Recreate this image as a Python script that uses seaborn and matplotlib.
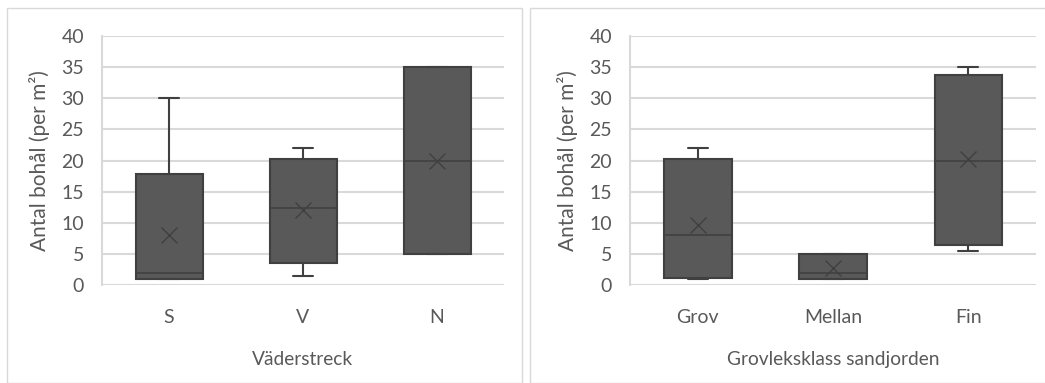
import numpy as np
import matplotlib
matplotlib.use("Agg")
import matplotlib.pyplot as plt
import seaborn as sns
from matplotlib.patches import Rectangle

# left panel: direction
dir_labels = ["S", "V", "N"]
dir_min = [1, 1.5, 5]
dir_q1 = [1, 3.6, 5]
dir_med = [2, 12.3, 20]
dir_q3 = [17.8, 20.2, 35]
dir_max = [30, 22, 35]
dir_mean = [8, 12, 20]

# right panel: sand grain size
size_labels = ["Grov", "Mellan", "Fin"]
size_min = [1, 1, 5.5]
size_q1 = [1.1, 1, 6.5]
size_med = [8, 2, 20]
size_q3 = [20.2, 5, 33.8]
size_max = [22, 5, 35]
size_mean = [9.7, 2.7, 20.2]

sns.set_theme(style="white")
plt.rcParams['font.family'] = ['Lato', 'DejaVu Sans']

TXT = "#595959"
FILL = "#595959"
EDGE = "#404040"
GRID = "#d9d9d9"

fig = plt.figure(figsize=(10.45, 3.83), dpi=100)

# panel frames
W, H = 1045, 383
fig.patches.append(Rectangle((7 / W, 0), (522 - 7) / W, 1 - 8 / H, transform=fig.transFigure,
                             fill=False, edgecolor=GRID, lw=1))
fig.patches.append(Rectangle((530 / W, 0), 1.05, 1 - 8 / H, transform=fig.transFigure,
                             fill=False, edgecolor=GRID, lw=1))

ax1 = fig.add_axes([102 / W, 1 - 285 / H, (504 - 102) / W, (285 - 36) / H])
ax2 = fig.add_axes([630 / W, 1 - 285 / H, (1036 - 630) / W, (285 - 36) / H])


def draw(ax, labels, mn, q1, med, q3, mx, mean, xlabel):
    stats = []
    for i in range(len(labels)):
        stats.append(dict(whislo=mn[i], q1=q1[i], med=med[i], q3=q3[i], whishi=mx[i],
                          mean=mean[i], fliers=[], label=labels[i]))
    ax.bxp(stats, positions=range(len(labels)), widths=0.5, capwidths=0.15,
           showmeans=True, showfliers=False, patch_artist=True,
           boxprops=dict(facecolor=FILL, edgecolor=EDGE, lw=1.5),
           medianprops=dict(color=EDGE, lw=1.2),
           whiskerprops=dict(color=EDGE, lw=1.5),
           capprops=dict(color=EDGE, lw=1.5),
           meanprops=dict(marker="x", markersize=12, markeredgecolor=EDGE,
                          markeredgewidth=1.0))
    ax.set_xlim(-0.5, len(labels) - 0.5)
    ax.set_ylim(0, 40)
    ax.set_yticks(range(0, 41, 5))
    ax.yaxis.grid(True, color=GRID, lw=1.5)
    ax.set_axisbelow(True)
    for s in ["top", "right", "bottom"]:
        ax.spines[s].set_visible(False)
    ax.spines["left"].set_color(GRID)
    ax.spines["left"].set_linewidth(1.5)
    ax.tick_params(axis="both", length=0, labelsize=14, colors=TXT)
    ax.tick_params(axis="y", pad=13)
    ax.tick_params(axis="x", pad=17)
    ax.set_xlabel(xlabel, fontsize=13.8, color=TXT, labelpad=18)
    ax.set_ylabel("Antal bohål (per m²)", fontsize=15, color=TXT, labelpad=8)


draw(ax1, dir_labels, dir_min, dir_q1, dir_med, dir_q3, dir_max, dir_mean, "Väderstreck")
draw(ax2, size_labels, size_min, size_q1, size_med, size_q3, size_max, size_mean,
     "Grovleksklass sandjorden")

fig.savefig("out.png", dpi=100)
